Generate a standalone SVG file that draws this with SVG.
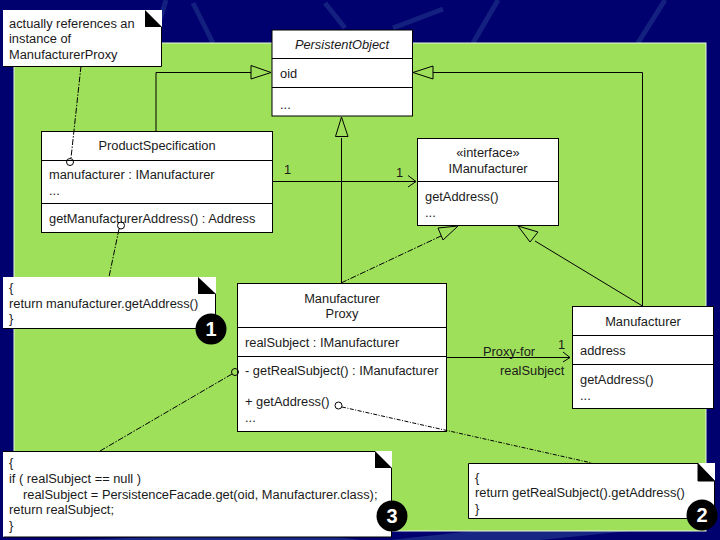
<svg xmlns="http://www.w3.org/2000/svg" width="720" height="540" viewBox="0 0 720 540">
<style>
text{font-family:"Liberation Sans",Arial,sans-serif;font-size:12.85px;fill:#1a1a1a}
.m{text-anchor:middle}
.box{fill:#fff;stroke:#000;stroke-width:1}
.div{stroke:#000;stroke-width:1;fill:none}
.line{stroke:#000;stroke-width:1;fill:none}
.dash{stroke:#000;stroke-width:1;fill:none;stroke-dasharray:6 1.5 1.5 1.5}
.dot{stroke:#000;stroke-width:1;fill:none;stroke-dasharray:4 1.5 1 1.5}
.head{fill:none;stroke:#000;stroke-width:1}
.pin{fill:none;stroke:#000;stroke-width:1}
.note{fill:#fff;stroke:none}
.fold{fill:#000}
.badge{fill:#000}
.bt{font-family:"Liberation Sans",Arial,sans-serif;font-size:20px;font-weight:bold;fill:#fff;text-anchor:middle}
.st{stroke:#27408f;stroke-width:5;fill:none;opacity:.5}
</style>
<rect width="720" height="540" fill="#00006e"/>
<g id="background">
<path class="st" d="M193 3L213 43M325 3L345 28M393 28L443 9M498 0L473 43M665 0L638 43M166 0L160 20"/>
<path d="M70 540L300 532L360 540ZM390 540L500 528L640 530L540 540Z" fill="#27408f" opacity=".6"/>
<rect x="14" y="43" width="692" height="488" fill="#9fe05a" stroke="#e8f5e0" stroke-width="1"/>
</g>
<g id="persistent-object">
<rect class="box" x="272" y="30" width="140.500" height="86"/>
<path class="div" d="M272 58.500H412M272 87.500H412"/>
<text class="m" x="342" y="49" font-style="italic">PersistentObject</text>
<text x="280" y="78">oid</text>
<text x="280" y="109">...</text>
</g>
<g id="product-specification">
<rect class="box" x="41.500" y="131.500" width="231" height="101"/>
<path class="div" d="M41.500 160.500H272M41.500 203.500H272"/>
<text class="m" x="157" y="150">ProductSpecification</text>
<text x="49" y="179">manufacturer : IManufacturer</text>
<text x="49" y="195">...</text>
<text x="49" y="223">getManufacturerAddress() : Address</text>
<circle class="pin" cx="70" cy="162" r="3.500" fill="none"/>
<circle class="pin" cx="121" cy="225.500" r="3.500"/>
</g>
<g id="imanufacturer">
<rect class="box" x="417.500" y="138.500" width="141" height="87"/>
<path class="div" d="M417.500 181.500H558"/>
<text class="m" x="488" y="157">«interface»</text>
<text class="m" x="488" y="173">IManufacturer</text>
<text x="425" y="201">getAddress()</text>
<text x="425" y="217">...</text>
</g>
<g id="manufacturer-proxy">
<rect class="box" x="237.500" y="283.500" width="209" height="148"/>
<path class="div" d="M237.500 327.500H446M237.500 356.500H446"/>
<text class="m" x="342" y="303">Manufacturer</text>
<text class="m" x="342" y="318">Proxy</text>
<text x="245" y="347">realSubject : IManufacturer</text>
<text x="245" y="375">- getRealSubject() : IManufacturer</text>
<text x="245" y="406">+ getAddress()</text>
<text x="245" y="422">...</text>
<circle class="pin" cx="235" cy="372" r="3.500"/>
<circle class="pin" cx="338.500" cy="405.500" r="3.500"/>
</g>
<g id="manufacturer">
<rect class="box" x="572.500" y="306.500" width="141" height="102"/>
<path class="div" d="M572.500 335.500H713M572.500 364.500H713"/>
<text class="m" x="643" y="326">Manufacturer</text>
<text x="580" y="355">address</text>
<text x="580" y="384">getAddress()</text>
<text x="580" y="400">...</text>
</g>
<g id="connectors">
<path class="line" d="M156 131V72.500H251"/>
<path class="head" d="M251 65.500L271 72.500L251 79Z"/>
<path class="line" d="M642.500 306V72.500H433"/>
<path class="head" d="M433 66L413 72.500L433 79Z"/>
<path class="line" d="M341.500 283V138"/>
<path class="head" d="M341.500 117L335.500 136.500H348Z"/>
<path class="line" d="M273 181.500H416"/>
<path class="line" d="M408 175.500L416 181.500L408 187"/>
<path class="dash" d="M341 283L441 236"/>
<path class="head" d="M458 226L438 228L443 240Z"/>
<path class="line" d="M642.500 306L535 241" stroke-width="1.300"/>
<path class="head" d="M518 226L538 232L530 242Z"/>
<path class="line" d="M447 357.500H570"/>
<path class="line" d="M563 352L570 357.500L563 362"/>
<path class="dash" d="M81 66L71 158"/>
<path class="dash" d="M119 229L109 277"/>
<path class="dash" d="M232 374L100 451"/>
<path class="dot" d="M342 407L592 463"/>
</g>
<g id="labels">
<text x="284" y="174">1</text>
<text x="396" y="177">1</text>
<text x="483" y="356">Proxy-for</text>
<text x="558" y="349">1</text>
<text x="500" y="375">realSubject</text>
</g>
<g id="note-proxy">
<rect class="note" x="3" y="10" width="159" height="56"/>
<path class="fold" d="M145 10V27H162Z"/>
<path class="line" d="M3.500 66.500H161.500V27"/>
<text x="9" y="28">actually references an</text>
<text x="9" y="43">instance of</text>
<text x="9" y="59">ManufacturerProxy</text>
</g>
<g id="note-1">
<rect class="note" x="3" y="277" width="213" height="51"/>
<path class="fold" d="M198 277V294H216Z"/>
<path class="line" d="M3.500 328.500H215.500V294"/>
<text x="9" y="292">{</text>
<text x="9" y="308">return manufacturer.getAddress()</text>
<text x="9" y="323">}</text>
<circle class="badge" cx="211" cy="329" r="15.500"/>
<text class="bt" x="211" y="336">1</text>
</g>
<g id="note-3">
<rect class="note" x="3" y="451" width="389" height="86"/>
<path class="fold" d="M375 451V468H392Z"/>
<path class="line" d="M3.500 537H391.500V468M3 451.500H375"/>
<text x="9" y="467">{</text>
<text x="9" y="483">if ( realSubject == null )</text>
<text x="23" y="499">realSubject = PersistenceFacade.get(oid, Manufacturer.class);</text>
<text x="9" y="514">return realSubject;</text>
<text x="9" y="530">}</text>
<circle class="badge" cx="392" cy="516" r="15.500"/>
<text class="bt" x="392" y="523">3</text>
</g>
<g id="note-2">
<path d="M468.500 463.500H698V481H714.500V518.500H468.500Z" fill="#fff" stroke="#000"/>
<path d="M698 463H715V481Z" fill="#fff"/>
<path class="fold" d="M698 463V481H715Z"/>
<text x="475" y="482">{</text>
<text x="475" y="497">return getRealSubject().getAddress()</text>
<text x="475" y="513">}</text>
<circle class="badge" cx="702" cy="515" r="15.500"/>
<text class="bt" x="702" y="522">2</text>
</g>
</svg>
